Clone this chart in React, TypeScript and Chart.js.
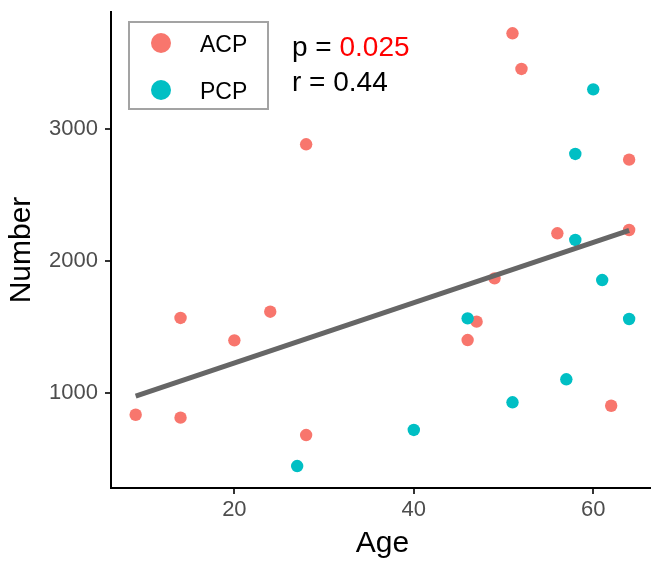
import React, { useEffect, useRef } from 'react';
import { Chart, registerables } from 'chart.js';

Chart.register(...registerables);

const acpAge = [9, 14, 14, 20, 24, 28, 28, 46, 47, 49, 51, 52, 56, 62, 64, 64];
const acpNumber = [839, 817, 1570, 1401, 1617, 2881, 686, 1403, 1542, 1869, 3719, 3450, 2209, 907, 2765, 2234];
const pcpAge = [27, 40, 46, 51, 57, 58, 58, 60, 61, 64];
const pcpNumber = [452, 724, 1567, 933, 1107, 2808, 2159, 3296, 1856, 1562];
const fitAge = [9, 64];
const fitNumber = [980, 2232];
const xTicks = [20, 40, 60];
const yTicks = [1000, 2000, 3000];
const groupLabels = ['ACP', 'PCP'];
const groupColors = ['#F8766D', '#00BFC4'];
const pValue = '0.025';
const rValue = '0.44';

const FAMILY = '"Liberation Sans", Arial, Helvetica, sans-serif';

const overlay = {
  id: 'overlay',
  afterDraw(chart: any) {
    const ctx = chart.ctx as CanvasRenderingContext2D;
    ctx.save();
    ctx.strokeStyle = '#A3A3A3';
    ctx.lineWidth = 2;
    ctx.strokeRect(129, 22, 139, 87);
    groupLabels.forEach((lab, i) => {
      const cy = 43 + i * 47;
      ctx.fillStyle = groupColors[i];
      ctx.beginPath();
      ctx.arc(161, cy, 10, 0, Math.PI * 2);
      ctx.fill();
      ctx.fillStyle = '#000000';
      ctx.font = `23px ${FAMILY}`;
      ctx.textBaseline = 'alphabetic';
      ctx.textAlign = 'left';
      ctx.fillText(lab, 200, 52 + i * 47);
    });
    ctx.font = `28px ${FAMILY}`;
    ctx.textBaseline = 'alphabetic';
    ctx.textAlign = 'left';
    ctx.fillStyle = '#000000';
    const pre = 'p = ';
    ctx.fillText(pre, 292, 56);
    const w = ctx.measureText(pre).width;
    ctx.fillStyle = '#FF0000';
    ctx.fillText(pValue, 292 + w, 56);
    ctx.fillStyle = '#000000';
    ctx.fillText('r = ' + rValue, 292, 91);
    ctx.restore();
  },
};

export default function App() {
  const ref = useRef<HTMLCanvasElement | null>(null);
  useEffect(() => {
    if (!ref.current) return;
    const chart = new Chart(ref.current, {
      type: 'scatter',
      data: {
        datasets: [
          {
            type: 'line',
            label: 'fit',
            data: fitAge.map((x, i) => ({ x, y: fitNumber[i] })),
            borderColor: '#666666',
            borderWidth: 5,
            pointRadius: 0,
            fill: false,
            order: 0,
          } as any,
          {
            label: groupLabels[0],
            data: acpAge.map((x, i) => ({ x, y: acpNumber[i] })),
            backgroundColor: groupColors[0],
            borderWidth: 0,
            pointRadius: 6.2,
            order: 2,
          },
          {
            label: groupLabels[1],
            data: pcpAge.map((x, i) => ({ x, y: pcpNumber[i] })),
            backgroundColor: groupColors[1],
            borderWidth: 0,
            pointRadius: 6.2,
            order: 1,
          },
        ],
      },
      options: {
        animation: false,
        responsive: false,
        devicePixelRatio: 1,
        layout: { padding: { top: 12, left: 0, right: 0, bottom: 0 } },
        plugins: { legend: { display: false }, tooltip: { enabled: false } },
        scales: {
          x: {
            type: 'linear',
            min: 6.25,
            max: 66.75,
            afterBuildTicks: (s: any) => {
              s.ticks = xTicks.map((v) => ({ value: v }));
            },
            afterFit: (s: any) => {
              s.height = 82;
              s.paddingLeft = 0;
              s.paddingRight = 0;
              s.paddingTop = 0;
              s.paddingBottom = 0;
            },
            grid: { display: true, drawOnChartArea: false, drawTicks: true, tickLength: 6, color: '#333333', lineWidth: 2 },
            border: { display: true, color: '#000000', width: 2 },
            ticks: { font: { size: 22, family: FAMILY }, color: '#4D4D4D', padding: 3, maxRotation: 0, callback: (v: any) => String(v) },
            title: { display: true, text: 'Age', font: { size: 30, family: FAMILY }, color: '#000000', padding: { top: 0, bottom: 8 } },
          },
          y: {
            type: 'linear',
            min: 286,
            max: 3880,
            afterBuildTicks: (s: any) => {
              s.ticks = yTicks.map((v) => ({ value: v }));
            },
            afterFit: (s: any) => {
              s.width = 111;
              s.paddingLeft = 0;
              s.paddingRight = 0;
              s.paddingTop = 0;
              s.paddingBottom = 0;
            },
            grid: { display: true, drawOnChartArea: false, drawTicks: true, tickLength: 6, color: '#333333', lineWidth: 2 },
            border: { display: true, color: '#000000', width: 2 },
            ticks: { font: { size: 22, family: FAMILY }, color: '#4D4D4D', padding: 7, callback: (v: any) => String(v) },
            title: { display: true, text: 'Number', font: { size: 30, family: FAMILY }, color: '#000000', padding: { top: 4, bottom: 0 } },
          },
        },
      },
      plugins: [overlay],
    });
    return () => chart.destroy();
  }, []);
  return (
    <div style={{ position: 'absolute', left: 0, top: 0, width: 651, height: 570, overflow: 'hidden', background: '#ffffff' }}>
      <canvas ref={ref} width={660} height={570} style={{ display: 'block', width: 660, height: 570 }} />
    </div>
  );
}
